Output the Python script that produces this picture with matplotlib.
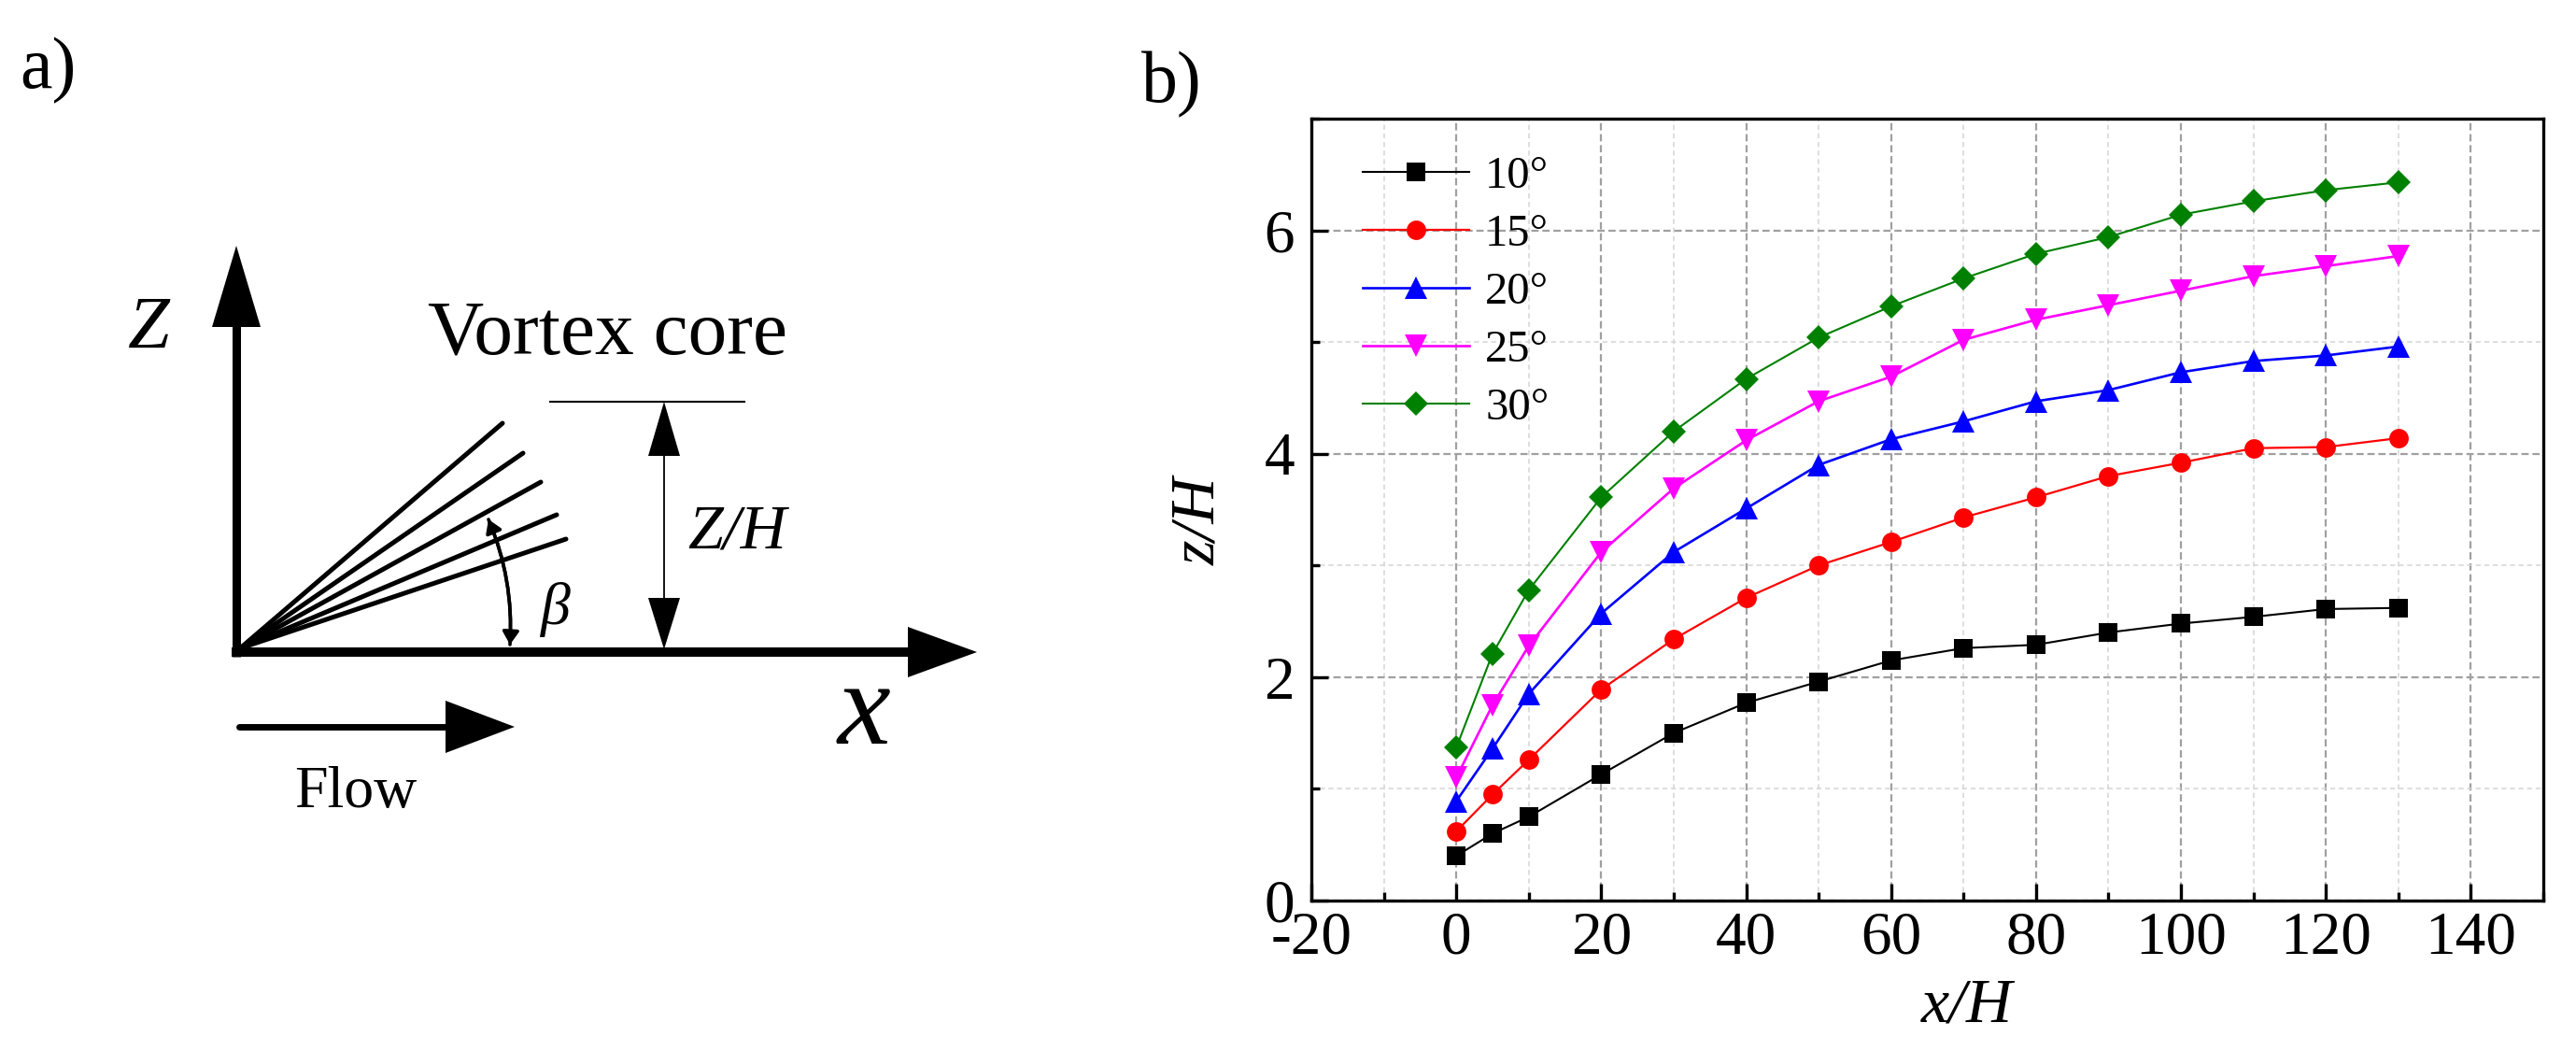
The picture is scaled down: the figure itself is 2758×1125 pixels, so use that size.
import numpy as np
import matplotlib
matplotlib.use("Agg")
import matplotlib.pyplot as plt
from matplotlib.patches import Polygon
from matplotlib.ticker import MultipleLocator

plt.rcParams['font.family'] = ['Liberation Serif', 'DejaVu Serif']
plt.rcParams['axes.unicode_minus'] = False

# ---------------- data (panel b) ----------------
x_h = [0, 5, 10, 20, 30, 40, 50, 60, 70, 80, 90, 100, 110, 120, 130]
z_10 = [0.40, 0.60, 0.75, 1.13, 1.50, 1.77, 1.96, 2.15, 2.26, 2.29, 2.40, 2.48, 2.54, 2.61, 2.62]
z_15 = [0.62, 0.95, 1.26, 1.89, 2.34, 2.71, 3.00, 3.21, 3.43, 3.61, 3.80, 3.92, 4.05, 4.06, 4.14]
z_20 = [0.89, 1.36, 1.85, 2.57, 3.12, 3.51, 3.90, 4.13, 4.29, 4.47, 4.57, 4.73, 4.83, 4.88, 4.96]
z_25 = [1.10, 1.75, 2.28, 3.12, 3.69, 4.12, 4.47, 4.69, 5.02, 5.20, 5.33, 5.46, 5.59, 5.68, 5.77]
z_30 = [1.37, 2.21, 2.78, 3.61, 4.20, 4.67, 5.04, 5.32, 5.57, 5.79, 5.94, 6.14, 6.26, 6.36, 6.43]
series_labels = ['10°', '15°', '20°', '25°', '30°']
xticks = [-20, 0, 20, 40, 60, 80, 100, 120, 140]
yticks = [0, 2, 4, 6]

W, H = 2758, 1125
fig = plt.figure(figsize=(W / 100, H / 100), dpi=100)

# ---------------- panel a: schematic (pixel coordinates) ----------------
axa = fig.add_axes([0, 0, 1100 / W, 1])
axa.set_xlim(0, 1100)
axa.set_ylim(1125, 0)
axa.axis('off')

k = 'black'
# z axis
axa.plot([253, 253], [703, 345], color=k, lw=6.5, solid_capstyle='butt')
axa.add_patch(Polygon([(253, 263), (227, 350), (279, 350)], closed=True, color=k, lw=0))
# x axis
axa.plot([248, 975], [698, 698], color=k, lw=7.2, solid_capstyle='butt')
axa.add_patch(Polygon([(1046, 698), (972, 671), (972, 725)], closed=True, color=k, lw=0))
# fan of vortex lines
fan_ends = [(538, 453), (560, 485), (579, 516), (596, 551), (606, 577)]
for ex, ey in fan_ends:
    axa.plot([257, ex], [694, ey], color=k, lw=3.6, solid_capstyle='round')
# beta arc with arrowheads at both ends
arc_style = '-|>,head_length=0.55,head_width=0.35'
axa.annotate('', xy=(546, 690), xytext=(523, 556),
             arrowprops=dict(arrowstyle=arc_style,
                             connectionstyle='arc3,rad=-0.116', lw=2.6,
                             color=k, shrinkA=0, shrinkB=0, mutation_scale=15))
axa.annotate('', xy=(523, 556), xytext=(546, 690),
             arrowprops=dict(arrowstyle=arc_style,
                             connectionstyle='arc3,rad=0.116', lw=2.6,
                             color=k, shrinkA=0, shrinkB=0, mutation_scale=15))
# Z/H dimension
axa.plot([589, 797], [430, 430], color=k, lw=1.5)
axa.plot([711, 711], [485, 643], color=k, lw=1.3)
axa.add_patch(Polygon([(711, 430), (694, 488), (728, 488)], closed=True, color=k, lw=0))
axa.add_patch(Polygon([(711, 695), (694, 640), (728, 640)], closed=True, color=k, lw=0))
# flow arrow
axa.plot([256, 480], [778, 778], color=k, lw=5.0, solid_capstyle='round')
axa.add_patch(Polygon([(551, 778), (477, 750), (477, 806)], closed=True, color=k, lw=0))

axa.text(21, 94, 'a)', fontsize=56, ha='left', va='baseline')
axa.text(158, 373, 'Z', fontsize=58, style='italic', ha='center', va='baseline')
axa.text(458, 378, 'Vortex core', fontsize=60, ha='left', va='baseline')
axa.text(736, 587, 'Z/H', fontsize=49, style='italic', ha='left', va='baseline')
axa.text(594, 668, 'β', fontsize=46, style='italic', ha='center', va='baseline')
axa.text(925, 796, 'x', fontsize=92, style='italic', ha='center', va='baseline')
axa.text(315, 864, 'Flow', fontsize=46, ha='left', va='baseline')

# ---------------- panel b ----------------
ax = fig.add_axes([1404 / W, 1 - 964 / H, (2723 - 1404) / W, (964 - 127) / H])
styles = [
    dict(color='black', marker='s', ms=13.7, lw=1.5),
    dict(color='#ff0000', marker='o', ms=15.0, lw=1.6),
    dict(color='#0000ff', marker='^', ms=17.0, lw=1.9),
    dict(color='#ff00ff', marker='v', ms=17.0, lw=1.9),
    dict(color='#008000', marker='D', ms=13.0, lw=1.5),
]
for ys, lab, st in zip([z_10, z_15, z_20, z_25, z_30], series_labels, styles):
    ax.plot(x_h, ys, label=lab, markeredgewidth=0, **st)

ax.set_xlim(-20, 150)
ax.set_ylim(0, 7)
ax.set_xticks(xticks)
ax.set_yticks(yticks)
ax.xaxis.set_minor_locator(MultipleLocator(10))
ax.yaxis.set_minor_locator(MultipleLocator(1))
ax.set_axisbelow(True)
ax.grid(which='major', color='#a0a0a0', lw=1.6, ls=(0, (3.5, 1.8)))
ax.grid(which='minor', color='#d4d4d4', lw=1.1, ls=(0, (3.5, 2.5)))
ax.tick_params(which='major', direction='in', length=13, width=2.4,
               top=False, right=False, labelsize=47)
ax.tick_params(axis='x', which='major', pad=8)
ax.tick_params(axis='y', which='major', pad=13)
ax.tick_params(which='minor', direction='in', length=6.5, width=2.4,
               top=False, right=False)
for sp in ax.spines.values():
    sp.set_linewidth(2.4)

ax.set_xlabel('x/H', fontsize=49, style='italic')
ax.xaxis.set_label_coords((2106 - 1404) / 1319, (964 - 1077) / 837)
ax.xaxis.label.set_va('center')
ax.set_ylabel('z/H', fontsize=49, style='italic')
ax.yaxis.set_label_coords((1284 - 1404) / 1319, (964 - 558) / 837)
ax.yaxis.label.set_va('center')

ax.legend(loc='upper left', bbox_to_anchor=((1459 - 1404) / 1319, (964 - 167) / 837),
          frameon=False, fontsize=35, handlelength=2.35, handletextpad=0.35,
          labelspacing=0.37, borderpad=0, borderaxespad=0, numpoints=1)

fig.text(1222 / W, 1 - 109 / H, 'b)', fontsize=56, ha='left', va='baseline')

fig.savefig('out.png', dpi=100)
